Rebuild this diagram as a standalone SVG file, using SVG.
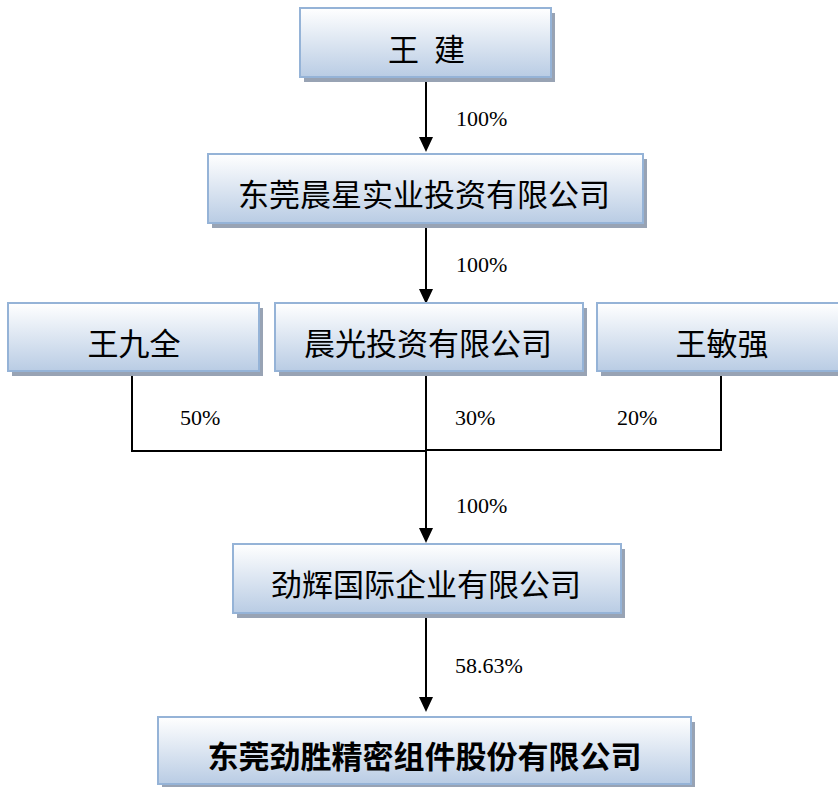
<svg xmlns="http://www.w3.org/2000/svg" width="838" height="787" viewBox="0 0 838 787">
<defs>
<linearGradient id="boxfill" x1="0" y1="0" x2="0" y2="1">
<stop offset="0" stop-color="#ffffff"/>
<stop offset="1" stop-color="#b9cce4"/>
</linearGradient>
<marker id="arrow" markerUnits="userSpaceOnUse" markerWidth="16" markerHeight="16" refX="5" refY="7" orient="auto">
<path d="M0,0 L15,7 L0,14 z" fill="#000"/>
</marker>
<style>
.box{fill:url(#boxfill);stroke:#95b3d7;stroke-width:2}
.shadow{fill:#98a3b4}
.lbl{font-family:"Noto Sans CJK SC",sans-serif;font-size:31px;fill:#000;text-anchor:middle;dominant-baseline:central}
.bold{font-weight:bold}
.pct{font-family:"Liberation Serif","Times New Roman",serif;font-size:22px;fill:#000}
.conn{fill:none;stroke:#000;stroke-width:2}
</style>
</defs>
<rect width="838" height="787" fill="#ffffff"/>
<g id="connectors">
<line class="conn" x1="426" y1="77" x2="426" y2="142" marker-end="url(#arrow)"/>
<line class="conn" x1="426" y1="223" x2="426" y2="294" marker-end="url(#arrow)"/>
<line class="conn" x1="426" y1="371" x2="426" y2="533" marker-end="url(#arrow)"/>
<path class="conn" d="M132,371 V451 H426"/>
<path class="conn" d="M721,371 V450 H426"/>
<line class="conn" x1="426" y1="613" x2="426" y2="702" marker-end="url(#arrow)"/>
<text class="pct" x="456" y="126">100%</text>
<text class="pct" x="456" y="272">100%</text>
<text class="pct" x="180" y="425">50%</text>
<text class="pct" x="455" y="425">30%</text>
<text class="pct" x="617" y="425">20%</text>
<text class="pct" x="456" y="513">100%</text>
<text class="pct" x="455" y="673">58.63%</text>
</g>
<g id="node-wangjian">
<rect class="shadow" x="304" y="13" width="251" height="69"/>
<rect class="box" x="300" y="8" width="251" height="69"/>
<text class="lbl" x="426.5" y="47" word-spacing="8">王 建</text>
</g>
<g id="node-chenxing">
<rect class="shadow" x="212" y="159" width="435" height="69"/>
<rect class="box" x="208" y="154" width="435" height="69"/>
<text class="lbl" x="424" y="192">东莞晨星实业投资有限公司</text>
</g>
<g id="node-wangjiuquan">
<rect class="shadow" x="12" y="308" width="251" height="68"/>
<rect class="box" x="8" y="303" width="251" height="68"/>
<text class="lbl" x="134" y="341">王九全</text>
</g>
<g id="node-chenguang">
<rect class="shadow" x="279" y="308" width="308" height="68"/>
<rect class="box" x="275" y="303" width="308" height="68"/>
<text class="lbl" x="428" y="341">晨光投资有限公司</text>
</g>
<g id="node-wangminqiang">
<rect class="shadow" x="601" y="308" width="250" height="68"/>
<rect class="box" x="597" y="303" width="250" height="68"/>
<text class="lbl" x="722" y="341">王敏强</text>
</g>
<g id="node-jinhui">
<rect class="shadow" x="237" y="549" width="388" height="69"/>
<rect class="box" x="233" y="544" width="388" height="69"/>
<text class="lbl" x="426" y="582">劲辉国际企业有限公司</text>
</g>
<g id="node-jinsheng">
<rect class="shadow" x="162" y="722" width="533" height="67"/>
<rect class="box" x="158" y="717" width="533" height="67"/>
<text class="lbl bold" x="424.5" y="754">东莞劲胜精密组件股份有限公司</text>
</g>
</svg>
